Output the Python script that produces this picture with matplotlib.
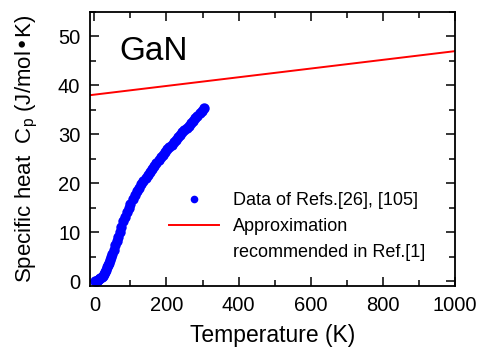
import matplotlib
matplotlib.use("Agg")
import matplotlib.pyplot as plt
from matplotlib.ticker import MultipleLocator
from matplotlib.lines import Line2D

plt.rcParams['font.family'] = ['Liberation Sans', 'DejaVu Sans']

# Measured data (Refs. [26], [105])
data_T = [2, 5, 8, 11, 14, 17, 20, 23, 26, 29, 32, 35, 38, 41, 44, 47, 50, 54, 58,
          62, 66, 70, 75, 80, 85, 90, 95, 100, 106, 112, 118, 124, 130, 136, 142,
          148, 154, 160, 166, 172, 178, 184, 190, 196, 202, 208, 214, 220, 226,
          232, 238, 244, 250, 256, 262, 268, 274, 280, 286, 292, 298, 303]
data_C = [0.0, 0.05, 0.1, 0.2, 0.35, 0.55, 0.8, 1.1, 1.45, 1.85, 2.3, 2.8, 3.3,
          3.8, 4.4, 5.0, 5.6, 6.4, 7.3, 8.2, 9.1, 10.0, 11.1, 12.2, 13.2, 14.1,
          15.0, 15.8, 16.8, 17.7, 18.4, 19.1, 19.8, 20.4, 21.0, 21.7, 22.4, 23.0,
          23.6, 24.2, 24.8, 25.3, 25.8, 26.4, 26.9, 27.4, 27.9, 28.4, 28.9, 29.4,
          29.9, 30.4, 30.8, 31.3, 31.8, 32.3, 32.8, 33.3, 33.8, 34.3, 34.8, 35.3]

# Approximation recommended in Ref.[1]
approx_T = [-12, 1000]
approx_C = [38.0, 47.0]

legend_labels = ["Data of Refs.[26], [105]", "Approximation", "recommended in Ref.[1]"]

fig = plt.figure(figsize=(4.79, 3.5), dpi=100)
ax = fig.add_axes([90/479, 1 - 286/350, (455-90)/479, (286-12)/350])

pts, = ax.plot(data_T, data_C, linestyle='none', marker='o', markersize=7.5,
               color='#0000ff', markeredgewidth=0)
line, = ax.plot(approx_T, approx_C, color='#ff0000', linewidth=1.4)

ax.set_xlim(-12, 1000)
ax.set_ylim(-1, 55)
ax.xaxis.set_major_locator(MultipleLocator(200))
ax.xaxis.set_minor_locator(MultipleLocator(100))
ax.yaxis.set_major_locator(MultipleLocator(10))
ax.yaxis.set_minor_locator(MultipleLocator(5))
ax.tick_params(which='both', direction='in', top=True, right=True,
               width=1.1, labelsize=14.5, pad=7)
ax.tick_params(which='major', length=6.5)
ax.tick_params(which='minor', length=4.5)
for s in ax.spines.values():
    s.set_linewidth(1.3)

ax.set_xlabel("Temperature (K)", fontsize=16.5, labelpad=7)
ax.set_ylabel("Specific heat  C$_\\mathregular{p}$ (J/mol\u2022K)", fontsize=16,
              labelpad=13)

ax.text(0.08, 0.855, "GaN", transform=ax.transAxes, fontsize=24,
        ha='left', va='center')

blank = Line2D([], [], color='none')
mk = Line2D([], [], linestyle='none', marker='o', markersize=5.5,
            color='#0000ff', markeredgewidth=0)
leg = ax.legend([mk, line, blank], legend_labels,
                loc='upper left', bbox_to_anchor=(169/479, 1 - 192/350),
                bbox_transform=fig.transFigure, frameon=False, fontsize=13,
                borderpad=0, borderaxespad=0, handlelength=2.75,
                handletextpad=0.8, labelspacing=0.5)

fig.savefig("out.png", dpi=100)
